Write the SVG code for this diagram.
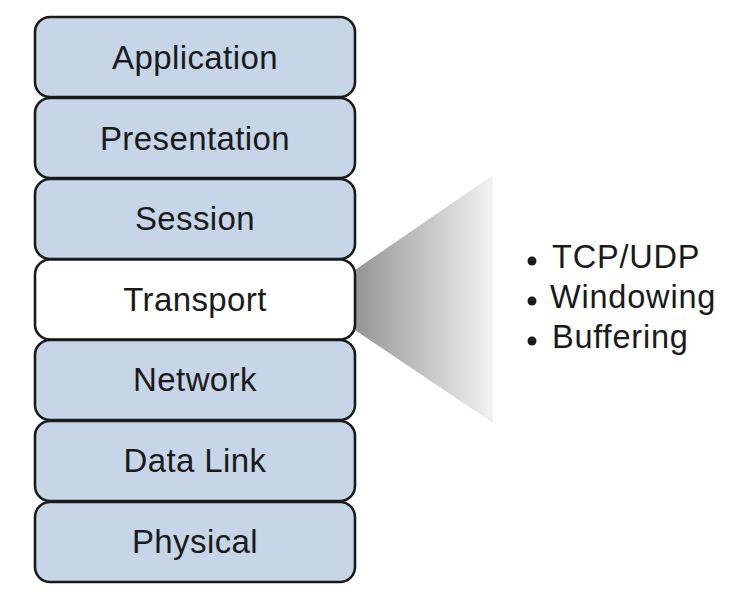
<svg xmlns="http://www.w3.org/2000/svg" width="748" height="593" viewBox="0 0 748 593">
<style>
.layer rect{fill:#c6d6e8;stroke:#1a1a1a;stroke-width:2.6}
.layer.white rect{fill:#ffffff}
.layer text{font-family:"Liberation Sans",Arial,sans-serif;font-size:33px;letter-spacing:0.4px;fill:#1a1a1a;text-anchor:middle}
.bul text{font-family:"Liberation Sans",Arial,sans-serif;font-size:32.5px;letter-spacing:0.8px;fill:#1a1a1a}
</style>
<defs>
<linearGradient id="g" x1="0" y1="0" x2="1" y2="0">
<stop offset="0" stop-color="#959595"/>
<stop offset="1" stop-color="#f2f2f2"/>
</linearGradient>
</defs>
<g id="connectors">
<polygon points="355,270 493,175 493,423 355,330" fill="url(#g)"/>
</g>
<g id="application" class="layer"><rect x="35" y="17" width="320" height="80" rx="15"/><text x="195" y="69">Application</text></g>
<g id="presentation" class="layer"><rect x="35" y="98" width="320" height="80" rx="15"/><text x="195" y="150">Presentation</text></g>
<g id="session" class="layer"><rect x="35" y="179" width="320" height="80" rx="15"/><text x="195" y="230">Session</text></g>
<g id="transport" class="layer white"><rect x="35" y="259.5" width="320" height="80" rx="15"/><text x="195" y="311">Transport</text></g>
<g id="network" class="layer"><rect x="35" y="340" width="320" height="80" rx="15"/><text x="195" y="391">Network</text></g>
<g id="datalink" class="layer"><rect x="35" y="421" width="320" height="80" rx="15"/><text x="195" y="472">Data Link</text></g>
<g id="physical" class="layer"><rect x="35" y="502" width="320" height="80" rx="15"/><text x="195" y="553">Physical</text></g>
<g id="details" class="bul">
<circle cx="532" cy="261" r="4.5" fill="#1a1a1a"/>
<circle cx="532" cy="301" r="4.5" fill="#1a1a1a"/>
<circle cx="532" cy="341" r="4.5" fill="#1a1a1a"/>
<text x="552" y="268">TCP/UDP</text>
<text x="550" y="308">Windowing</text>
<text x="552" y="348">Buffering</text>
</g>
</svg>
